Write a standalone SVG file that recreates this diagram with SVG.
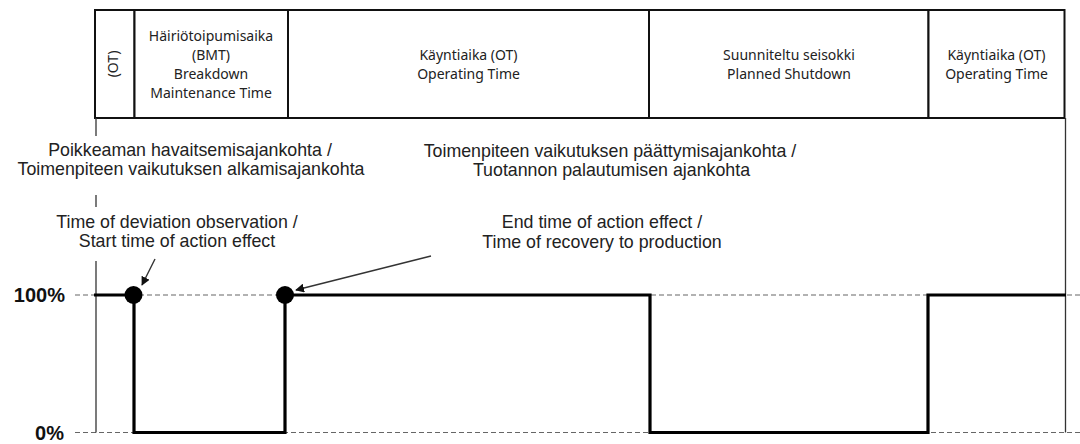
<svg xmlns="http://www.w3.org/2000/svg" width="1080" height="444" viewBox="0 0 1080 444">
<defs>
<style>
.hdr{font-family:"Noto Sans","Open Sans",sans-serif;font-size:14px;fill:#222;text-anchor:middle}
.lbl{font-family:"Liberation Sans",Arial,sans-serif;font-size:17.8px;fill:#222;text-anchor:middle}
.pct{font-family:"Liberation Sans",Arial,sans-serif;font-size:20px;font-weight:bold;fill:#111;text-anchor:end}
.box{fill:#fff;stroke:#111;stroke-width:2}
.dash{stroke:#666;stroke-width:1.2;stroke-dasharray:5 3;fill:none}
.thin{stroke:#333;stroke-width:1.3;fill:none}
.sig{stroke:#000;stroke-width:3.2;fill:none;stroke-linejoin:miter}
.arr{stroke:#333;stroke-width:1.4;fill:none;marker-end:url(#ah)}
</style>
<marker id="ah" viewBox="0 0 10 10" refX="9" refY="5" markerWidth="9" markerHeight="9" markerUnits="userSpaceOnUse" orient="auto">
<path d="M0,0 L10,5 L0,10 z" fill="#111"/>
</marker>
</defs>

<g id="header">
<g id="n-ot1"><rect class="box" x="95" y="10" width="39.5" height="108"/>
<text class="hdr" transform="translate(118,64) rotate(-90)">(OT)</text></g>
<g id="n-bmt"><rect class="box" x="134.5" y="10" width="153.5" height="108"/>
<text class="hdr" x="211" y="40.5">Häiriötoipumisaika</text>
<text class="hdr" x="211" y="59.5">(BMT)</text>
<text class="hdr" x="211" y="78.5">Breakdown</text>
<text class="hdr" x="211" y="97.5">Maintenance Time</text></g>
<g id="n-ot2"><rect class="box" x="288" y="10" width="361" height="108"/>
<text class="hdr" x="468.5" y="59.5">Käyntiaika (OT)</text>
<text class="hdr" x="468.5" y="78.5">Operating Time</text></g>
<g id="n-ps"><rect class="box" x="649" y="10" width="279.5" height="108"/>
<text class="hdr" x="789" y="59.5">Suunniteltu seisokki</text>
<text class="hdr" x="789" y="78.5">Planned Shutdown</text></g>
<g id="n-ot3"><rect class="box" x="928.5" y="10" width="136" height="108"/>
<text class="hdr" x="996.5" y="59.5">Käyntiaika (OT)</text>
<text class="hdr" x="996.5" y="78.5">Operating Time</text></g>
</g>

<g id="axes">
<line class="dash" x1="75" y1="295" x2="1080" y2="295"/>
<line class="dash" x1="75" y1="432.5" x2="1080" y2="432.5"/>
<line class="thin" x1="96" y1="118" x2="96" y2="136"/>
<line class="thin" x1="96" y1="195" x2="96" y2="207"/>
<line class="thin" x1="96" y1="261" x2="96" y2="432.5"/>
<line class="thin" x1="1065.5" y1="118" x2="1065.5" y2="432.5"/>
<text class="pct" x="65" y="302">100%</text>
<text class="pct" x="64" y="440">0%</text>
</g>

<g id="signal">
<polyline class="sig" points="94,295 134,295 134,432.5 285,432.5 285,295 650,295 650,432.5 928,432.5 928,295 1066,295"/>
</g>

<g id="n-start">
<circle cx="133.5" cy="295" r="9" fill="#000"/>
<text class="lbl" x="190" y="156">Poikkeaman havaitsemisajankohta /</text>
<text class="lbl" x="191" y="175">Toimenpiteen vaikutuksen alkamisajankohta</text>
<text class="lbl" x="177" y="228">Time of deviation observation /</text>
<text class="lbl" x="177" y="247">Start time of action effect</text>
</g>

<g id="n-end">
<circle cx="285" cy="295" r="9" fill="#000"/>
<text class="lbl" x="610" y="156.5">Toimenpiteen vaikutuksen päättymisajankohta /</text>
<text class="lbl" x="611.5" y="176">Tuotannon palautumisen ajankohta</text>
<text class="lbl" x="602" y="228">End time of action effect /</text>
<text class="lbl" x="602" y="248">Time of recovery to production</text>
</g>

<g id="connectors">
<line class="arr" x1="155" y1="259" x2="142" y2="285"/>
<line class="arr" x1="431" y1="256" x2="296" y2="290"/>
</g>
</svg>
